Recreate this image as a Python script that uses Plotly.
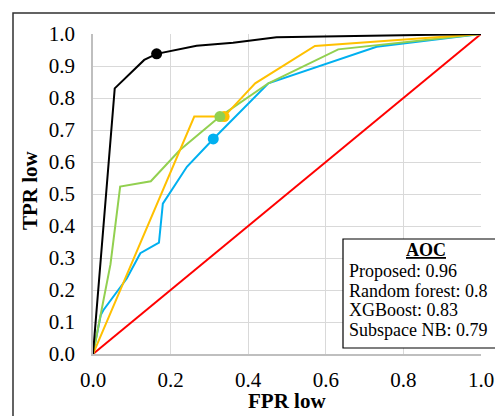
import plotly.graph_objects as go

# ---- data ----
prop_x = [0, 0.056, 0.132, 0.164, 0.267, 0.361, 0.473, 1.0]
prop_y = [0, 0.83, 0.919, 0.938, 0.963, 0.973, 0.99, 1.0]

xgb_x = [0, 0.261, 0.338, 0.418, 0.572, 1.0]
xgb_y = [0, 0.742, 0.742, 0.846, 0.9625, 1.0]

rf_x = [0, 0.045, 0.07, 0.149, 0.224, 0.327, 0.452, 0.632, 1.0]
rf_y = [0, 0.28, 0.523, 0.54, 0.6375, 0.742, 0.846, 0.952, 1.0]

nb_x = [0, 0.02, 0.027, 0.087, 0.122, 0.17, 0.18, 0.242, 0.31, 0.452, 0.731, 1.0]
nb_y = [0, 0.122, 0.1375, 0.236, 0.315, 0.348, 0.47, 0.585, 0.672, 0.846, 0.96, 1.0]

diag_x = [0, 1]
diag_y = [0, 1]

# highlighted operating points
prop_pt = (0.164, 0.938)
xgb_pt = (0.338, 0.742)
rf_pt = (0.327, 0.742)
nb_pt = (0.31, 0.672)

ticks = [0, 0.1, 0.2, 0.3, 0.4, 0.5, 0.6, 0.7, 0.8, 0.9, 1.0]
xticks = [0, 0.2, 0.4, 0.6, 0.8, 1.0]

legend_title = "AOC"
legend_lines = ["Proposed: 0.96", "Random forest: 0.8", "XGBoost: 0.83", "Subspace NB: 0.79"]

BLACK = "#000000"
YELLOW = "#FFC000"
GREEN = "#92D050"
BLUE = "#00B0F0"
RED = "#FF0000"

fig = go.Figure()
fig.add_trace(go.Scatter(x=diag_x, y=diag_y, mode="lines", line=dict(color=RED, width=2)))
fig.add_trace(go.Scatter(x=nb_x, y=nb_y, mode="lines", line=dict(color=BLUE, width=2)))
fig.add_trace(go.Scatter(x=rf_x, y=rf_y, mode="lines", line=dict(color=GREEN, width=2)))
fig.add_trace(go.Scatter(x=xgb_x, y=xgb_y, mode="lines", line=dict(color=YELLOW, width=2)))
fig.add_trace(go.Scatter(x=prop_x, y=prop_y, mode="lines", line=dict(color=BLACK, width=2)))

for pt, c in [(nb_pt, BLUE), (xgb_pt, YELLOW), (rf_pt, GREEN), (prop_pt, BLACK)]:
    fig.add_trace(go.Scatter(x=[pt[0]], y=[pt[1]], mode="markers",
                             marker=dict(color=c, size=11, line=dict(width=0))))

FONT = "Liberation Serif"

fig.update_layout(
    width=495, height=416,
    margin=dict(l=93, r=14, t=34, b=62),
    paper_bgcolor="white", plot_bgcolor="white",
    showlegend=False,
    font=dict(family=FONT, color="black"),
    xaxis=dict(range=[0, 1.0], tickvals=xticks, ticktext=[f"{v:.1f}" for v in xticks],
               showgrid=True, gridcolor="#D9D9D9", gridwidth=1,
               showline=True, linecolor="#BFBFBF", linewidth=1.5,
               zeroline=False, tickfont=dict(size=21, family=FONT),
               ticks="", ticklabelstandoff=6, automargin=False),
    yaxis=dict(range=[0, 1.0], tickvals=ticks, ticktext=[f"{v:.1f}" for v in ticks],
               showgrid=True, gridcolor="#D9D9D9", gridwidth=1,
               showline=True, linecolor="#BFBFBF", linewidth=1.5,
               zeroline=False, tickfont=dict(size=21, family=FONT),
               ticks="", ticklabelstandoff=12, automargin=False),
)

shapes = [
    # outer border
    dict(type="rect", xref="paper", yref="paper",
         x0=(13 - 93) / 388, x1=1.2, y0=-0.3, y1=(354 - 13) / 320,
         line=dict(color="#303030", width=1.5), fillcolor="rgba(0,0,0,0)", layer="above"),
    # legend box
    dict(type="rect", xref="paper", yref="paper",
         x0=(343 - 93) / 388, x1=1.2, y0=(354 - 348) / 320, y1=(354 - 239) / 320,
         line=dict(color="black", width=1.2), fillcolor="white", layer="above"),
]
fig.update_layout(shapes=shapes)

ann = [
    dict(text="<b>FPR low</b>", xref="paper", yref="paper", x=0.5, y=(354 - 401) / 320,
         showarrow=False, font=dict(size=21, family=FONT), xanchor="center", yanchor="middle"),
    dict(text="<b>TPR low</b>", xref="paper", yref="paper", x=(30 - 93) / 388, y=(354 - 190) / 320,
         showarrow=False, textangle=-90, font=dict(size=21, family=FONT), xanchor="center", yanchor="middle"),
    dict(text=f"<b><u>{legend_title}</u></b>", xref="paper", yref="paper",
         x=(426 - 93) / 388, y=(354 - 250) / 320, showarrow=False,
         font=dict(size=18, family=FONT), xanchor="center", yanchor="middle"),
]
for i, t in enumerate(legend_lines):
    ann.append(dict(text=t, xref="paper", yref="paper", x=(347 - 93) / 388,
                    y=(354 - (271 + 19.5 * i)) / 320, showarrow=False,
                    font=dict(size=18, family=FONT), xanchor="left", yanchor="middle"))
fig.update_layout(annotations=ann)

fig.write_html("out.html", config={"displayModeBar": False},
               post_script="document.body.style.margin='0';document.body.style.overflow='hidden';")
